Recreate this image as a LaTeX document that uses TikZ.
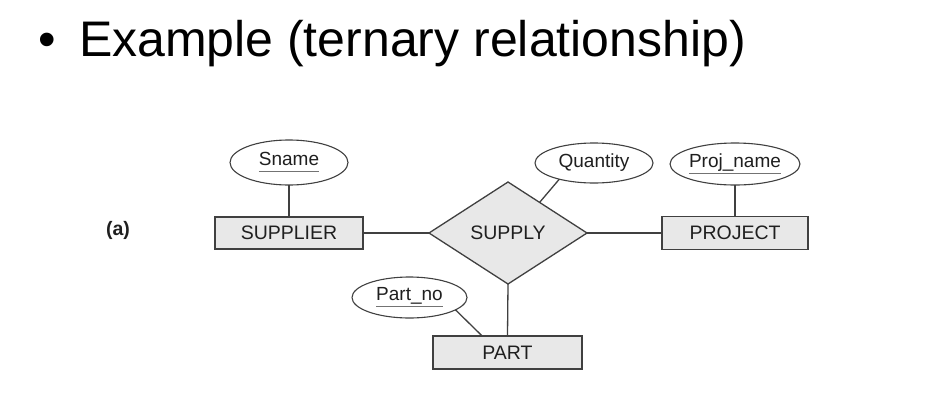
\documentclass[tikz,border=0pt]{standalone}
\usepackage{fontspec}
\setmainfont{Liberation Sans}
\usetikzlibrary{shapes.geometric,calc}
\newsavebox\kbox
\newcommand\keyul[1]{\sbox\kbox{#1}\dp\kbox=0pt\vtop{\offinterlineskip\hbox{\usebox\kbox}\kern5pt\hbox{\textcolor{black!55}{\rule{\wd\kbox}{1.3pt}}}}}
\tikzset{
  erline/.style={draw=black!75, line width=1.3pt},
  entity/.style={rectangle, draw=black!75, line width=1.3pt, fill=black!9, inner sep=0pt, outer sep=0pt, text=black!88, font=\fontsize{19.5}{22}\selectfont},
  attr/.style={ellipse, draw=black!75, line width=1.1pt, fill=white, inner sep=0pt, outer sep=0pt, text=black!88, font=\fontsize{19}{22}\selectfont},
  rel/.style={diamond, draw=black!75, line width=1.3pt, fill=black!9, inner sep=0pt, outer sep=0pt, text=black!88, font=\fontsize{19.5}{22}\selectfont},
  titletext/.style={inner sep=0pt, outer sep=0pt, anchor=base west, font=\fontsize{50}{60}\selectfont}
}
\begin{document}
\begin{tikzpicture}[x=1pt,y=-1pt]
\useasboundingbox (0,0) rectangle (946,400);
% title
\node[titletext] (bullet) at (38.8,56) {•};
\node[titletext] (title) at (79,56) {Example (ternary relationship)};
% label
\node[inner sep=0pt, font=\fontsize{19.5}{22}\selectfont\bfseries, text=black!88] (lbl) at (118,230) {(a)};
% entities
\node[entity, minimum width=148pt, minimum height=32pt] (supplier) at (289,233) {SUPPLIER};
\node[entity, minimum width=149pt, minimum height=33pt] (part) at (507.5,352.5) {PART};
\node[entity, minimum width=146pt, minimum height=33pt] (project) at (735,233) {PROJECT};
% relationship
\node[rel, minimum width=158pt, minimum height=102pt] (supply) at (508,233) {SUPPLY};
% attributes
\node[attr, minimum width=118pt, minimum height=45pt] (sname) at (289,162.5) {\keyul{Sname}};
\node[attr, minimum width=118pt, minimum height=40pt] (qty) at (594,163) {Quantity};
\node[attr, minimum width=120pt, minimum height=42pt] (pname) at (735,164) {\keyul{Proj\_name}};
\node[attr, minimum width=115pt, minimum height=41pt] (pno) at (409.5,297.5) {\keyul{Part\_no}};
% anchor points
\coordinate (qd) at ($(supply.north)!0.4!(supply.east)$);
\coordinate (pt) at ($(part.north west)!0.33!(part.north east)$);
% connectors
\draw[erline] (supplier.east) -- (supply.west);
\draw[erline] (supply.east) -- (project.west);
\draw[erline] (supply.south) -- (part.north);
\draw[erline] (sname.south) -- (supplier.north);
\draw[erline] (pname.south) -- (project.north);
\draw[erline] (qd) -- (qty.205);
\draw[erline] (pno.-15) -- (pt);
\end{tikzpicture}
\end{document}
